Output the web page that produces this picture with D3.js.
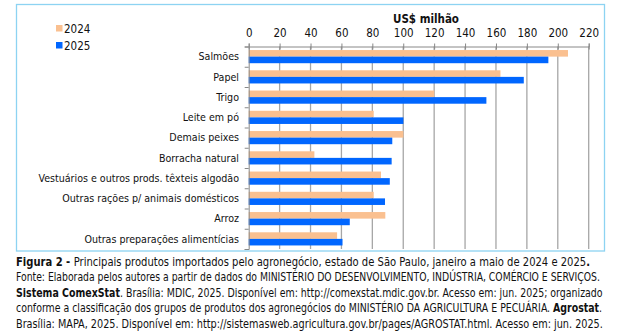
<!DOCTYPE html>
<html><head><meta charset="utf-8">
<script src="https://cdn.jsdelivr.net/npm/d3@7"></script>
<style>
html,body{margin:0;padding:0;background:#fff;}
svg{display:block;}
text{font-family:"DejaVu Sans Condensed","DejaVu Sans",sans-serif;fill:#111;}
</style></head>
<body><svg id="c" width="634" height="333"></svg>
<script>
const categories = ["Salmões","Papel","Trigo","Leite em pó","Demais peixes","Borracha natural","Vestuários e outros prods. têxteis algodão","Outras rações p/ animais domésticos","Arroz","Outras preparações alimentícias"];
const values2024 = [206.6,162.9,120.1,80.9,100.1,42.5,85.6,80.9,88.4,57.2];
const values2025 = [193.9,178.0,153.8,100.1,92.9,92.5,91.3,88.2,65.4,60.7];
const seriesNames = ["2024","2025"];
const seriesColors = ["#FAC090","#0066FF"];
const xTicks = [0,20,40,60,80,100,120,140,160,180,200,220];
const axisTitle = "US$ milhão";
const captionLines = [
 [{t:"Figura 2 - ",b:true},{t:"Principais produtos importados pelo agronegócio, estado de São Paulo, janeiro a maio de 2024 e 2025"},{t:".",b:true}],
 [{t:"Fonte: Elaborada pelos autores a partir de dados do MINISTÉRIO DO DESENVOLVIMENTO, INDÚSTRIA, COMÉRCIO E SERVIÇOS."}],
 [{t:"Sistema ComexStat",b:true},{t:". Brasília: MDIC, 2025. Disponível em: http://comexstat.mdic.gov.br. Acesso em: jun. 2025; organizado"}],
 [{t:"conforme a classificação dos grupos de produtos dos agronegócios do MINISTÉRIO DA AGRICULTURA E PECUÁRIA. "},{t:"Agrostat",b:true},{t:"."}],
 [{t:"Brasília: MAPA, 2025. Disponível em: http://sistemasweb.agricultura.gov.br/pages/AGROSTAT.html. Acesso em: jun. 2025."}]
];
const captionWidths = [575,585,587,587,588];

(function(){
const svg = d3.select("#c");
// frame
svg.append("rect").attr("x",16.5).attr("y",4.5).attr("width",588).attr("height",246.5)
  .attr("fill","#fff").attr("stroke","#8DD3F2").attr("stroke-width",1.3);

const L=248.7, R=588.7, T=46.5, B=249;
const x = d3.scaleLinear().domain([0,220]).range([L,R]);
const y = d3.scaleBand().domain(categories).range([T,B]).paddingInner(0.35).paddingOuter(0.175);
const ySub = d3.scaleBand().domain(seriesNames).range([0,y.bandwidth()]);

// gridlines
svg.append("g").selectAll("line").data(xTicks.slice(1)).join("line")
  .attr("x1",d=>x(d)).attr("x2",d=>x(d)).attr("y1",T).attr("y2",B)
  .attr("stroke","#A6A6A6").attr("stroke-width",1.3);

// bars
const data = categories.map((c,i)=>({c, v:[values2024[i],values2025[i]]}));
const g = svg.append("g");
seriesNames.forEach((s,si)=>{
  g.selectAll(".b"+si).data(data).join("rect").attr("class","b"+si)
   .attr("x",x(0)).attr("y",d=>y(d.c)+ySub(s))
   .attr("width",d=>x(d.v[si])-x(0)).attr("height",ySub.bandwidth())
   .attr("fill",seriesColors[si]);
});

// top axis
const xAxis = d3.axisTop(x).tickValues(xTicks).tickSize(3).tickPadding(7);
const ga = svg.append("g").attr("transform",`translate(0,${T})`).call(xAxis);
ga.select(".domain").attr("stroke","#888").attr("stroke-width",1);
ga.selectAll(".tick line").attr("stroke","#888").attr("y2",-3).attr("y1",3);
ga.selectAll(".tick text").attr("font-size",11.5).attr("fill","#111")
  .style("font-family",'"DejaVu Sans Condensed","DejaVu Sans",sans-serif');

// left axis
const yAxis = d3.axisLeft(d3.scaleLinear().domain([0,categories.length]).range([T,B]))
  .ticks(categories.length).tickFormat("").tickSize(4);
const gy = svg.append("g").attr("transform",`translate(${L},0)`).call(yAxis);
gy.select(".domain").attr("stroke","#888");
gy.selectAll(".tick line").attr("stroke","#888");

// category labels
svg.append("g").selectAll("text").data(categories).join("text")
  .attr("x",239).attr("y",d=>y(d)+y.bandwidth()/2).attr("dy","0.35em")
  .attr("text-anchor","end").attr("font-size",10.6).text(d=>d);

// axis title
svg.append("text").attr("x",426).attr("y",19).attr("dy","0.35em").attr("text-anchor","middle")
  .attr("font-size",11.5).attr("font-weight","bold").text(axisTitle);

// legend
seriesNames.forEach((s,i)=>{
  const ly = [28.5,45.5][i];
  svg.append("rect").attr("x",56).attr("y",ly-3.5).attr("width",6.5).attr("height",6.5).attr("fill",seriesColors[i]);
  svg.append("text").attr("x",64).attr("y",ly).attr("dy","0.35em").attr("font-size",11.5).text(s);
});

// caption (horizontally scaled to match reference line widths)
const capYs = [261.5,276.8,292.5,308.2,323.8];
captionLines.forEach((line,i)=>{
  const t = svg.append("text").attr("x",0).attr("y",0).attr("dy","0.35em").attr("font-size",11.5);
  line.forEach(p=>t.append("tspan").attr("font-weight",p.b?"bold":"normal").text(p.t));
  const w = t.node().getComputedTextLength();
  const k = captionWidths[i]/w;
  t.attr("transform",`translate(16,${capYs[i]}) scale(${k},1)`);
});
})();
</script></body></html>
